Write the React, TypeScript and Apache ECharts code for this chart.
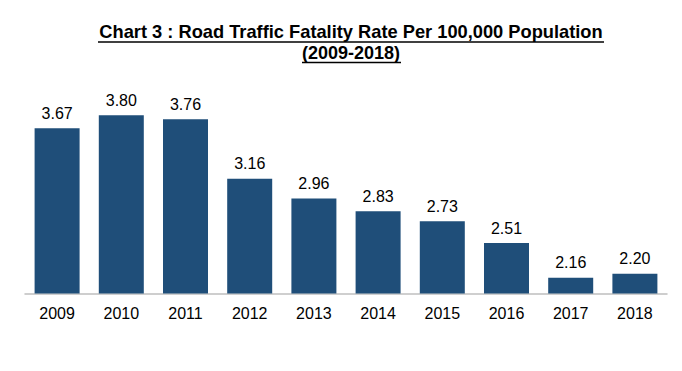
import React, { useEffect, useRef } from "react";
import * as echarts from "echarts";

const titleLine1 = "Chart 3 : Road Traffic Fatality Rate Per 100,000 Population";
const titleLine2 = "(2009-2018)";
const years = ["2009", "2010", "2011", "2012", "2013", "2014", "2015", "2016", "2017", "2018"];
const rates = [3.67, 3.8, 3.76, 3.16, 2.96, 2.83, 2.73, 2.51, 2.16, 2.2];

const FONT = "'Liberation Sans', Arial, Helvetica, sans-serif";

export default function App() {
  const ref = useRef<HTMLDivElement>(null);
  useEffect(() => {
    document.body.style.margin = "0";
    const chart = echarts.init(ref.current!, null, { renderer: "svg" });
    const titleStyle = {
      fontSize: 18,
      fontWeight: "bold",
      fontFamily: FONT,
      fill: "#000",
      textAlign: "center",
      textVerticalAlign: "middle",
    };
    chart.setOption({
      animation: false,
      backgroundColor: "#ffffff",
      textStyle: { fontFamily: FONT },
      graphic: [
        {
          type: "text",
          x: 351,
          y: 32,
          scaleX: 1.015,
          style: { ...titleStyle, text: titleLine1 },
        },
        {
          type: "line",
          shape: { x1: 98, y1: 42, x2: 604, y2: 42 },
          style: { stroke: "#000", lineWidth: 1.4 },
        },
        {
          type: "text",
          x: 351,
          y: 53,
          scaleX: 1.0,
          style: { ...titleStyle, text: titleLine2 },
        },
        {
          type: "line",
          shape: { x1: 302, y1: 62.5, x2: 401, y2: 62.5 },
          style: { stroke: "#000", lineWidth: 1.4 },
        },
      ],
      grid: { left: 25, right: 15, top: 95.5, bottom: 77.5, containLabel: false },
      xAxis: {
        type: "category",
        data: years,
        axisLine: { show: true, lineStyle: { color: "#BFBFBF", width: 1.5 } },
        axisTick: { show: false },
        axisLabel: { color: "#000", fontSize: 16, fontFamily: FONT, margin: 12 },
      },
      yAxis: {
        type: "value",
        min: 2,
        max: 4,
        show: false,
        splitLine: { show: false },
      },
      series: [
        {
          type: "bar",
          data: rates,
          barWidth: 45,
          itemStyle: { color: "#1F4E79" },
          label: {
            show: true,
            position: "top",
            distance: 7,
            color: "#000",
            fontSize: 16,
            fontFamily: FONT,
            formatter: (p: any) => Number(p.value).toFixed(2),
          },
        },
      ],
    });
    return () => chart.dispose();
  }, []);
  return <div ref={ref} style={{ width: 682, height: 371 }} />;
}
